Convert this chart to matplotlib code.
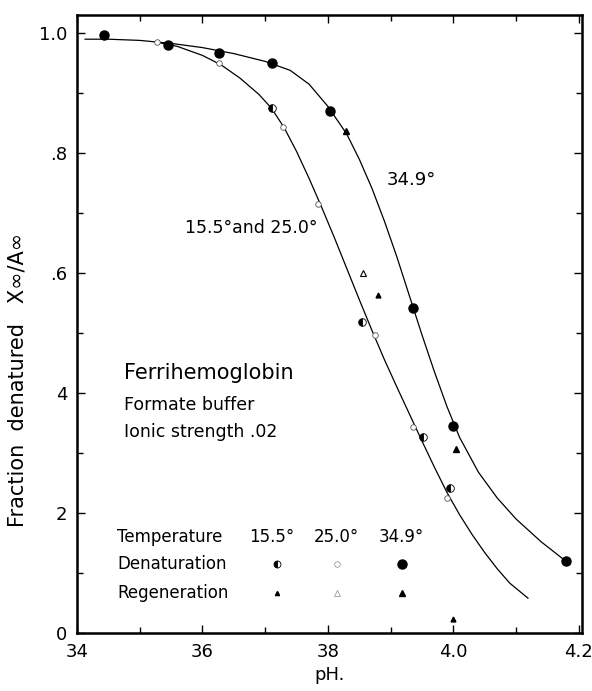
import numpy as np
import matplotlib
matplotlib.use("Agg")
import matplotlib.pyplot as plt

plt.rcParams['font.family'] = ['DejaVu Sans']

# measured points, pH vs fraction denatured
den349_x = [3.443, 3.545, 3.626, 3.711, 3.803, 3.935, 3.999, 4.179]
den349_y = [0.997, 0.980, 0.967, 0.950, 0.870, 0.542, 0.345, 0.120]
reg349_x = [3.829, 4.004]
reg349_y = [0.837, 0.307]
den155_x = [3.711, 3.854, 3.951, 3.994]
den155_y = [0.875, 0.518, 0.327, 0.242]
reg155_x = [3.880, 3.999]
reg155_y = [0.563, 0.023]
den250_x = [3.527, 3.626, 3.728, 3.784, 3.875, 3.935, 3.990]
den250_y = [0.985, 0.950, 0.843, 0.715, 0.497, 0.343, 0.225]
reg250_x = [3.856]
reg250_y = [0.600]

# drawn curves
curve349_x = [3.413, 3.45, 3.50, 3.55, 3.60, 3.65, 3.70, 3.74, 3.77, 3.80,
              3.83, 3.85, 3.87, 3.89, 3.91, 3.93, 3.95, 3.97, 3.99, 4.01,
              4.04, 4.07, 4.10, 4.14, 4.179]
curve349_y = [0.990, 0.990, 0.988, 0.983, 0.976, 0.966, 0.953, 0.938, 0.915, 0.878,
              0.832, 0.790, 0.742, 0.687, 0.627, 0.562, 0.497, 0.435, 0.377, 0.326,
              0.268, 0.225, 0.190, 0.152, 0.120]
curve_low_x = [3.527, 3.56, 3.60, 3.63, 3.66, 3.69, 3.71, 3.73, 3.75, 3.77,
               3.79, 3.81, 3.83, 3.85, 3.87, 3.89, 3.91, 3.93, 3.95, 3.97,
               3.99, 4.01, 4.03, 4.05, 4.07, 4.09, 4.119]
curve_low_y = [0.985, 0.978, 0.963, 0.947, 0.925, 0.898, 0.875, 0.843, 0.803, 0.758,
               0.710, 0.660, 0.608, 0.556, 0.505, 0.456, 0.410, 0.365, 0.320, 0.276,
               0.234, 0.197, 0.164, 0.134, 0.107, 0.083, 0.058]

xticks = [3.4, 3.6, 3.8, 4.0, 4.2]
xlabels = ["34", "36", "38", "4.0", "4.2"]
yticks = [0, 0.2, 0.4, 0.6, 0.8, 1.0]
ylabels = ["0", "2", "4", ".6", ".8", "1.0"]

key_temps = ["15.5°", "25.0°", "34.9°"]
key_text_x = [3.711, 3.813, 3.917]
key_x = [3.719, 3.814, 3.918]
key_y = [0.115, 0.067]

fig = plt.figure(figsize=(5.92, 6.91), dpi=100)
ax = fig.add_axes([0.130, 0.084, 0.853, 0.894])

ax.plot(curve349_x, curve349_y, color='black', lw=0.9)
ax.plot(curve_low_x, curve_low_y, color='black', lw=0.9)

ax.plot(den349_x, den349_y, 'o', color='black', ms=6.5)
ax.plot(reg349_x, reg349_y, '^', color='black', ms=5)
ax.plot(den155_x, den155_y, 'o', color='black', ms=5.5, fillstyle='left',
        markerfacecoloralt='white', mew=0.6)
ax.plot(reg155_x, reg155_y, '^', color='black', ms=3.5)
ax.plot(den250_x, den250_y, 'o', mfc='white', mec='#555555', ms=4, mew=0.6)
ax.plot(reg250_x, reg250_y, '^', mfc='white', mec='black', ms=4, mew=0.8)

# key
ax.text(3.464, 0.16, "Temperature", fontsize=12, va='center')
for t, kx in zip(key_temps, key_text_x):
    ax.text(kx, 0.16, t, fontsize=12, va='center', ha='center')
ax.text(3.464, key_y[0], "Denaturation", fontsize=12, va='center')
ax.text(3.464, key_y[1], "Regeneration", fontsize=12, va='center')
ax.plot(key_x[0], key_y[0], 'o', color='black', ms=5, fillstyle='left',
        markerfacecoloralt='white', mew=0.6)
ax.plot(key_x[1], key_y[0], 'o', mfc='white', mec='#888888', ms=4, mew=0.5)
ax.plot(key_x[2], key_y[0], 'o', color='black', ms=6.5)
ax.plot(key_x[0], key_y[1], '^', color='black', ms=3)
ax.plot(key_x[1], key_y[1], '^', mfc='white', mec='#888888', ms=4, mew=0.5)
ax.plot(key_x[2], key_y[1], '^', color='black', ms=5)

ax.text(3.572, 0.675, "15.5°and 25.0°", fontsize=12.5, va='center')
ax.text(3.894, 0.755, "34.9°", fontsize=13, va='center')
ax.text(3.475, 0.433, "Ferrihemoglobin", fontsize=15, va='center')
ax.text(3.475, 0.380, "Formate buffer", fontsize=12.5, va='center')
ax.text(3.475, 0.335, "Ionic strength .02", fontsize=12.5, va='center')

ax.set_xlim(3.4, 4.205)
ax.set_ylim(0, 1.03)
ax.set_xticks(xticks)
ax.set_xticklabels(xlabels, fontsize=13)
ax.set_yticks(yticks)
ax.set_yticklabels(ylabels, fontsize=13)
ax.set_xticks(np.arange(3.5, 4.2, 0.2), minor=True)
ax.set_yticks(np.arange(0.1, 1.0, 0.2), minor=True)
ax.tick_params(which='both', direction='in', top=True, right=True, width=1)
ax.tick_params(which='major', length=6, pad=7)
ax.tick_params(which='minor', length=4)
for s in ax.spines.values():
    s.set_linewidth(1.8)

ax.set_xlabel("pH.", fontsize=13, labelpad=4)
ax.set_ylabel("Fraction  denatured   X∞/A∞", fontsize=15)
ax.yaxis.set_label_coords(-0.098, 0.41)

fig.savefig("out.png", dpi=100)
